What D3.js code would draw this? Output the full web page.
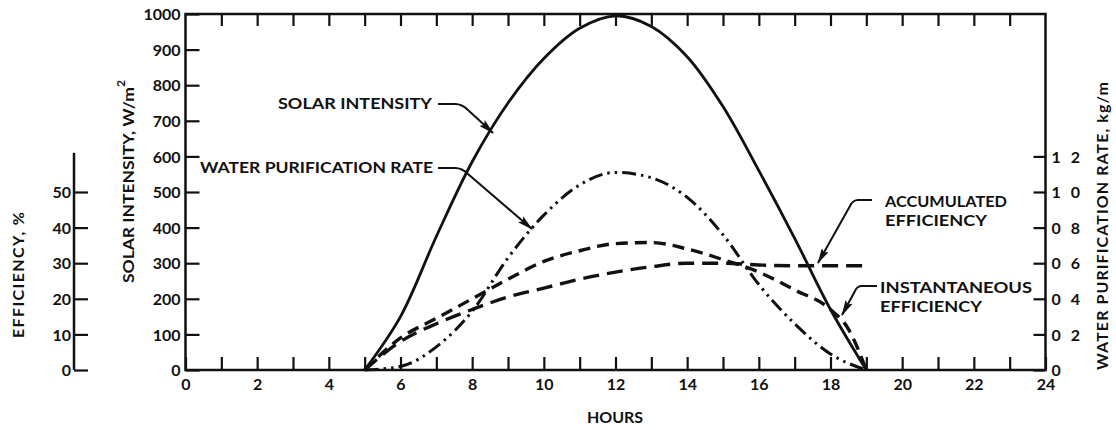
<!DOCTYPE html>
<html><head><meta charset="utf-8">
<script src="https://cdn.jsdelivr.net/npm/d3@7"></script>
<style>
html,body{margin:0;padding:0;background:#fff;}
svg{display:block;font-family:Lato,"Open Sans",sans-serif;}
</style></head>
<body>
<svg id="chart" width="1116" height="430"></svg>
<script>
// ---- data ----
const hours = [5,6,7,8,9,10,11,12,13,14,15,16,17,18,19];
const solarIntensity = [0,150,375,585,750,875,960,995,965,880,740,560,370,170,0];      // W/m2
const waterRate = [0,0.02,0.13,0.33,0.63,0.87,1.04,1.11,1.08,0.97,0.76,0.48,0.26,0.09,0]; // kg/m
const instHours = [5,6,7,8,9,10,11,12,13,14,15,16,17,18,18.5,19];
const instEfficiency = [0,9,14.5,20,25.5,30.5,33.5,35.5,35.8,34,31,27.5,22.5,17,11.5,0]; // %
const accHours = [5,6,7,8,9,10,11,12,13,14,15,16,17,18,19,19.1];
const accEfficiency = [0,8,13,17,20.5,23,25.5,27.5,29,30,30,29.5,29.3,29.3,29.3,29.3]; // %
const xTicks = d3.range(0,25,1);
const solarTicks = d3.range(0,1001,100);
const effTicks = [0,10,20,30,40,50];
const waterTicks = [0,0.2,0.4,0.6,0.8,1.0,1.2];

const svg = d3.select("#chart");
const X0 = 185.5, X1 = 1045.5, Y0 = 370, Y1 = 14;
const x = d3.scaleLinear([0,24],[X0,X1]);
const yS = d3.scaleLinear([0,1000],[Y0,Y1]);
const yE = d3.scaleLinear([0,100],[Y0,Y1]);
const yW = d3.scaleLinear([0,2],[Y0,Y1]);

const ink = "#111";
const tickFont = "bold 16px Lato, sans-serif";

function styleAxis(g){
  g.select(".domain").remove();
  g.selectAll(".tick line").attr("stroke",ink).attr("stroke-width",2.2);
  g.selectAll(".tick text").attr("fill",ink).style("font",tickFont);
}

// frame
svg.append("rect").attr("x",X0).attr("y",Y1).attr("width",X1-X0).attr("height",Y0-Y1)
  .attr("fill","none").attr("stroke",ink).attr("stroke-width",2.5);

// bottom axis
svg.append("g").attr("transform",`translate(0,${Y0})`)
  .call(d3.axisBottom(x).tickValues(xTicks).tickSize(-13).tickPadding(9)
    .tickFormat(d => d % 2 === 0 ? d : ""))
  .call(styleAxis);
// top axis ticks
svg.append("g").attr("transform",`translate(0,${Y1})`)
  .call(d3.axisTop(x).tickValues(xTicks.filter(d=>d>0&&d<24)).tickSize(-12).tickFormat(""))
  .call(styleAxis);
// left solar axis
svg.append("g").attr("transform",`translate(${X0},0)`)
  .call(d3.axisLeft(yS).tickValues(solarTicks).tickSize(-14).tickPadding(5).tickFormat(d3.format("d")))
  .call(styleAxis)
  .call(g => g.selectAll(".tick text").attr("dy","0.36em"));
// efficiency axis
const EX = 74;
svg.append("line").attr("x1",EX).attr("x2",EX).attr("y1",yE(0)).attr("y2",yE(61))
  .attr("stroke",ink).attr("stroke-width",2.5);
svg.append("g").attr("transform",`translate(${EX},0)`)
  .call(d3.axisLeft(yE).tickValues(effTicks).tickSize(-14).tickPadding(3))
  .call(styleAxis)
  .call(g => g.selectAll(".tick text").attr("dy","0.36em"));
// right water axis
svg.append("g").attr("transform",`translate(${X1},0)`)
  .call(d3.axisRight(yW).tickValues(waterTicks).tickSize(-12).tickPadding(6)
    .tickFormat(d => d === 0 ? "0" : d3.format(".1f")(d).replace("."," ")))
  .call(styleAxis)
  .call(g => g.selectAll(".tick text").attr("dy","0.36em").style("letter-spacing","3px").attr("x",6));

// axis titles
const titleFont = "bold 16px Lato, sans-serif";
svg.append("text").attr("x",615).attr("y",423).attr("text-anchor","middle")
  .style("font",titleFont).attr("fill",ink).attr("textLength",56).text("HOURS");
const st = svg.append("text").attr("transform","translate(134,283) rotate(-90)")
  .style("font",titleFont).attr("fill",ink);
st.append("tspan").attr("textLength",196).attr("lengthAdjust","spacingAndGlyphs").text("SOLAR INTENSITY, W/m");
st.append("tspan").attr("dy",-9).style("font-size","12px").text("2");
svg.append("text").attr("transform","translate(24,338) rotate(-90)")
  .style("font",titleFont).attr("fill",ink).attr("textLength",126).text("EFFICIENCY, %");
svg.append("text").attr("transform","translate(1108,370) rotate(-90)")
  .style("font",titleFont).attr("fill",ink).attr("textLength",288).text("WATER PURIFICATION RATE, kg/m");

// curves
const line = (xs, ys, yScale, curve) => d3.line().curve(curve || d3.curveMonotoneX)
  .x((d,i)=>x(xs[i])).y(d=>yScale(d))(ys);
svg.append("path").attr("d",line(hours,solarIntensity,yS,d3.curveCatmullRom.alpha(0.5)))
  .attr("fill","none").attr("stroke",ink).attr("stroke-width",2.8);
svg.append("path").attr("d",line(hours,waterRate,yW))
  .attr("fill","none").attr("stroke",ink).attr("stroke-width",3)
  .attr("stroke-dasharray","14,5,2.5,5,2.5,5");
svg.append("path").attr("d",line(instHours,instEfficiency,yE))
  .attr("fill","none").attr("stroke",ink).attr("stroke-width",3.4)
  .attr("stroke-dasharray","12,7");
svg.append("path").attr("d",line(accHours,accEfficiency,yE))
  .attr("fill","none").attr("stroke",ink).attr("stroke-width",3.4)
  .attr("stroke-dasharray","16,8");

// annotations
const defs = svg.append("defs");
defs.append("marker").attr("id","arr").attr("viewBox","0 0 16 8").attr("refX",15).attr("refY",4)
  .attr("markerWidth",16).attr("markerHeight",8).attr("markerUnits","userSpaceOnUse").attr("orient","auto")
  .append("path").attr("d","M0,0 L16,4 L0,8 L3,4 Z").attr("fill",ink);

const annFont = "bold 16px Lato, sans-serif";
const annotations = [
  {lines:["SOLAR INTENSITY"], x:278, y:109, w:[154], path:"M438,104 L455,104 Q462,104 468,110 L493,133"},
  {lines:["WATER PURIFICATION RATE"], x:200, y:173, w:[233], path:"M438,168 L455,168 Q462,168 468,174 L532,229"},
  {lines:["ACCUMULATED","EFFICIENCY"], x:885, y:207, w:[122,102], path:"M872,200 L858,200 Q853,200 850,206 L818,263"},
  {lines:["INSTANTANEOUS","EFFICIENCY"], x:880, y:293, w:[152,102], path:"M877,286 L862,286 Q857,286 855,291 L842,315"}
];
annotations.forEach(a => {
  a.lines.forEach((t,i) => {
    svg.append("text").attr("x",a.x).attr("y",a.y + i*19).style("font",annFont).attr("fill",ink)
      .attr("textLength",a.w[i]).attr("lengthAdjust","spacingAndGlyphs").text(t);
  });
  svg.append("path").attr("d",a.path).attr("fill","none").attr("stroke",ink)
    .attr("stroke-width",2).attr("marker-end","url(#arr)");
});
</script>
</body></html>
